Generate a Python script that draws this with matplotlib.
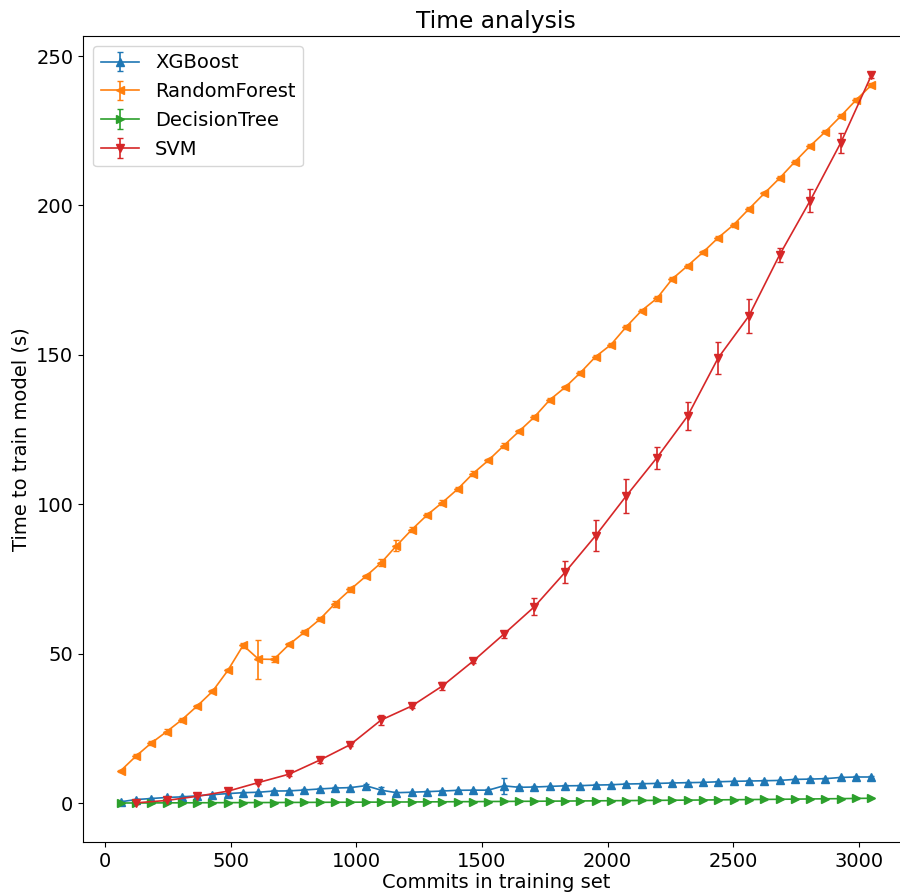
import numpy as np
import matplotlib
matplotlib.use("Agg")
import matplotlib.pyplot as plt

plt.rcParams['font.size'] = 14

# training set sizes (number of commits)
commits = [61 * k for k in range(1, 51)]
commits_svm = commits[1::2]

xgb_time = [0.45, 1.2, 1.55, 1.9, 2.1, 2.45, 2.85, 3.2, 3.5, 3.65,
            4.05, 4.1, 4.4, 4.75, 5.05, 5.2, 5.85, 4.35, 3.5, 3.65,
            3.85, 4.05, 4.3, 4.35, 4.35, 5.8, 5.3, 5.4, 5.6, 5.8,
            5.85, 6.05, 6.15, 6.4, 6.5, 6.6, 6.75, 6.85, 6.95, 7.15,
            7.3, 7.4, 7.5, 7.6, 7.95, 8.05, 8.2, 8.6, 8.75, 8.75]
xgb_err = [0.2, 0.3, 0.2, 0.2, 0.2, 0.2, 0.2, 0.2, 0.2, 0.2,
           0.2, 0.2, 0.2, 0.2, 0.3, 0.2, 0.4, 0.9, 0.3, 0.2,
           0.2, 0.2, 0.2, 0.2, 0.3, 2.7, 0.3, 0.2, 0.2, 0.2,
           0.2, 0.2, 0.2, 0.2, 0.2, 0.2, 0.2, 0.2, 0.2, 0.2,
           0.2, 0.2, 0.2, 0.2, 0.2, 0.2, 0.2, 0.2, 0.2, 0.3]

rf_time = [10.8, 15.7, 20.1, 23.9, 27.9, 32.5, 37.4, 44.4, 52.8, 48.2,
           48.1, 53.1, 57.2, 61.5, 66.8, 71.5, 75.9, 80.4, 86.1, 91.5,
           96.4, 100.6, 105.1, 110.3, 114.7, 119.6, 124.4, 129.2, 134.9, 139.1,
           144.0, 149.4, 153.4, 159.4, 164.8, 168.9, 175.4, 179.8, 184.3, 189.2,
           193.5, 198.8, 204.0, 209.1, 214.6, 219.9, 224.7, 229.9, 235.3, 240.3]
rf_err = [0.4, 0.6, 0.7, 0.8, 0.6, 0.5, 0.6, 0.6, 0.8, 6.5,
          1.0, 0.6, 0.6, 0.7, 1.0, 0.8, 0.6, 1.2, 1.8, 0.8,
          0.6, 0.8, 0.6, 0.9, 0.6, 0.9, 0.6, 0.6, 0.7, 0.6,
          0.6, 0.7, 0.6, 0.7, 0.6, 0.9, 0.6, 0.7, 0.6, 0.6,
          0.6, 0.8, 0.6, 0.7, 0.6, 0.7, 0.6, 0.7, 0.6, 0.6]

dt_time = [0.05, 0.06, 0.07, 0.1, 0.11, 0.13, 0.14, 0.17, 0.18, 0.2,
           0.21, 0.24, 0.25, 0.28, 0.3, 0.31, 0.34, 0.35, 0.38, 0.4,
           0.43, 0.45, 0.49, 0.5, 0.55, 0.57, 0.61, 0.63, 0.67, 0.7,
           0.74, 0.77, 0.82, 0.85, 0.9, 0.93, 0.98, 1.01, 1.06, 1.1,
           1.15, 1.19, 1.25, 1.29, 1.35, 1.4, 1.46, 1.51, 1.58, 1.64]
dt_err = [0.05] * 50

svm_time = [0.1, 0.9, 2.3, 4.0, 6.9, 9.7, 14.4, 19.6, 27.8, 32.5,
            39.2, 47.5, 56.5, 65.7, 77.2, 89.5, 102.8, 115.6, 129.5, 149.0,
            163.0, 183.4, 201.6, 221.0, 243.6]
svm_err = [0.3, 0.4, 0.4, 0.5, 0.6, 0.6, 0.8, 0.6, 1.6, 0.6,
           1.2, 0.6, 1.2, 2.8, 3.7, 5.1, 5.7, 3.7, 4.8, 5.4,
           5.6, 2.3, 3.8, 3.3, 0.8]

fig = plt.figure(figsize=(9, 8.92), dpi=100)
# axes run slightly past the right edge of the canvas
ax = fig.add_axes([83 / 900, 50 / 892, 826 / 900, 806 / 892])

ax.errorbar(commits, xgb_time, yerr=xgb_err, marker='^', capsize=2,
            lw=1.2, color='tab:blue', label='XGBoost')
ax.errorbar(commits, rf_time, yerr=rf_err, marker='<', capsize=2,
            lw=1.2, color='tab:orange', label='RandomForest')
ax.errorbar(commits, dt_time, yerr=dt_err, marker='>', capsize=2,
            lw=1.2, color='tab:green', label='DecisionTree')
ax.errorbar(commits_svm, svm_time, yerr=svm_err, marker='v', capsize=2,
            lw=1.2, color='tab:red', label='SVM')

ax.spines['right'].set_visible(False)
ax.set_ylim(-13, 256.7)
ax.set_title('Time analysis')
ax.set_xlabel('Commits in training set', labelpad=2)
ax.set_ylabel('Time to train model (s)')
ax.legend(loc='upper left')

fig.savefig('out.png', dpi=100)
